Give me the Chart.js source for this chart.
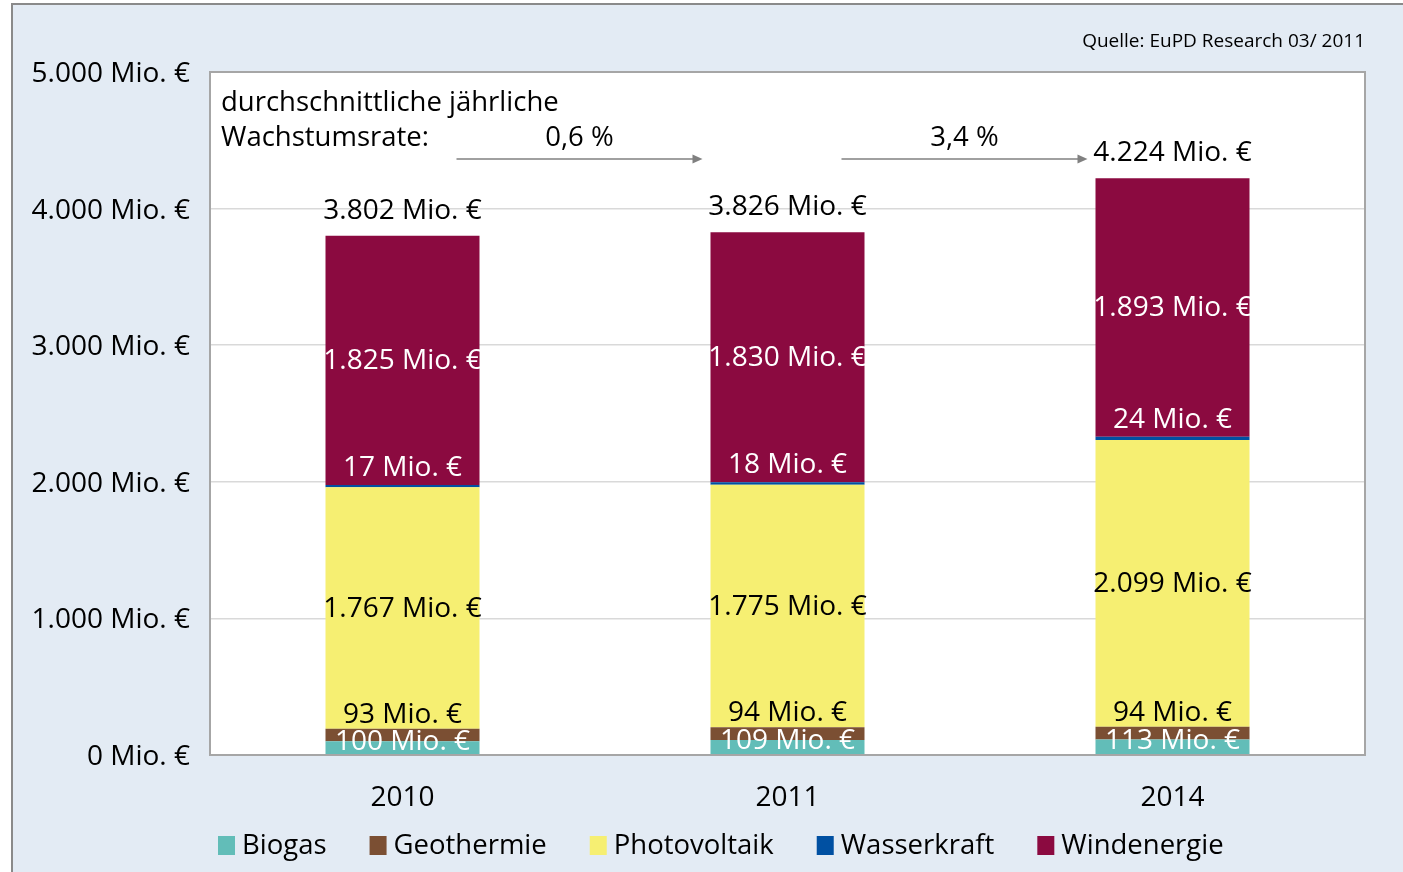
<!DOCTYPE html>
<html>
<head>
<meta charset="utf-8">
<script src="https://cdn.jsdelivr.net/npm/chart.js@4.4.0/dist/chart.umd.min.js"></script>
<style>
html, body { margin: 0; padding: 0; background: #fff; }
</style>
</head>
<body>
<canvas id="chart" width="1403" height="872"></canvas>
<script>
// data (Mio. €)
var years = ['2010', '2011', '2014'];
var biogas = [100, 109, 113];
var geothermie = [93, 94, 94];
var photovoltaik = [1767, 1775, 2099];
var wasserkraft = [17, 18, 24];
var windenergie = [1825, 1830, 1893];
var totals = [3802, 3826, 4224];
var growthRates = ['0,6 %', '3,4 %'];
var yMax = 5000;
var yStep = 1000;

var FONT = '"Open Sans", "Noto Sans", sans-serif';

function fmt(v){
    return v.toString().replace(/\B(?=(\d{3})+(?!\d))/g, '.') + ' Mio. €';
}

// label style per dataset: color, where to put it
var labelStyle = [
    {color: '#fff', pos: 'top', off: 1},
    {color: '#000', pos: 'top', off: -14},
    {color: '#000', pos: 'mid', off: 1},
    {color: '#fff', pos: 'top', off: -17},
    {color: '#fff', pos: 'mid', off: 1}
];

var decoPlugin = {
    id: 'deco',
    beforeDraw: function(chart){
        var ctx = chart.ctx, a = chart.chartArea;
        ctx.save();
        ctx.fillStyle = '#ffffff';
        ctx.fillRect(0, 0, chart.width, chart.height);
        ctx.fillStyle = '#e3ebf4';
        ctx.fillRect(12, 4, chart.width, chart.height);
        ctx.strokeStyle = '#8a8a8a';
        ctx.lineWidth = 2;
        ctx.strokeRect(12, 4, chart.width + 10, chart.height + 10);
        ctx.fillStyle = '#ffffff';
        ctx.fillRect(a.left, a.top, a.right - a.left, a.bottom - a.top);
        ctx.restore();
    },
    afterDraw: function(chart){
        var ctx = chart.ctx, a = chart.chartArea;
        var xs = chart.scales.x, ys = chart.scales.y;
        ctx.save();
        // plot border
        ctx.strokeStyle = '#a6a6a6';
        ctx.lineWidth = 2;
        ctx.strokeRect(a.left, a.top, a.right - a.left, a.bottom - a.top);

        // segment labels
        ctx.font = '28px ' + FONT;
        ctx.textAlign = 'center';
        ctx.textBaseline = 'middle';
        chart.data.datasets.forEach(function(ds, di){
            var meta = chart.getDatasetMeta(di);
            var st = labelStyle[di];
            meta.data.forEach(function(el, i){
                var y = st.pos == 'mid' ? (el.y + el.base) / 2 + st.off : el.y + st.off;
                ctx.fillStyle = st.color;
                ctx.fillText(fmt(ds.data[i]), el.x, y);
            });
        });
        // totals
        var last = chart.getDatasetMeta(chart.data.datasets.length - 1);
        ctx.fillStyle = '#000';
        last.data.forEach(function(el, i){
            ctx.fillText(fmt(totals[i]), el.x, el.y - 25);
        });

        // growth annotation
        ctx.font = '27.5px ' + FONT;
        ctx.textAlign = 'left';
        ctx.fillText('durchschnittliche jährliche', a.left + 11, a.top + 31);
        ctx.fillText('Wachstumsrate:', a.left + 11, a.top + 66);
        var ay = a.top + 87;
        ctx.strokeStyle = '#808080';
        ctx.fillStyle = '#808080';
        ctx.lineWidth = 1.5;
        for (var g = 0; g < growthRates.length; g++){
            var x1 = xs.getPixelForValue(g) + 54;
            var x2 = xs.getPixelForValue(g + 1) - 85;
            ctx.beginPath();
            ctx.moveTo(x1, ay);
            ctx.lineTo(x2 - 8, ay);
            ctx.stroke();
            ctx.beginPath();
            ctx.moveTo(x2, ay);
            ctx.lineTo(x2 - 10, ay - 4.5);
            ctx.lineTo(x2 - 10, ay + 4.5);
            ctx.closePath();
            ctx.fill();
            ctx.fillStyle = '#000';
            ctx.textAlign = 'center';
            ctx.fillText(growthRates[g], (x1 + x2) / 2, a.top + 66);
            ctx.fillStyle = '#808080';
        }

        // source
        ctx.fillStyle = '#000';
        ctx.font = '19px ' + FONT;
        ctx.textAlign = 'right';
        ctx.fillText('Quelle: EuPD Research 03/ 2011', a.right, 42);

        // legend
        ctx.font = '27.5px ' + FONT;
        ctx.textAlign = 'left';
        var lx = a.left + 8, ly = 846;
        chart.data.datasets.forEach(function(ds){
            ctx.fillStyle = ds.backgroundColor;
            ctx.fillRect(lx, ly - 10, 17, 19);
            ctx.fillStyle = '#000';
            ctx.fillText(ds.label, lx + 24, ly);
            lx += 24 + ctx.measureText(ds.label).width + 43;
        });
        ctx.restore();
    }
};

var ctx = document.getElementById('chart').getContext('2d');
var myChart = new Chart(ctx, {
    type: 'bar',
    data: {
        labels: years,
        datasets: [
            {label: 'Biogas', data: biogas, backgroundColor: '#62bdb8'},
            {label: 'Geothermie', data: geothermie, backgroundColor: '#7b4f33'},
            {label: 'Photovoltaik', data: photovoltaik, backgroundColor: '#f6ef72'},
            {label: 'Wasserkraft', data: wasserkraft, backgroundColor: '#0050a2'},
            {label: 'Windenergie', data: windenergie, backgroundColor: '#8b0a40'}
        ]
    },
    options: {
        responsive: false,
        animation: false,
        layout: {padding: {left: 12, right: 38, top: 72, bottom: 0}},
        datasets: {bar: {categoryPercentage: 1, barPercentage: 0.4, borderWidth: 0}},
        plugins: {legend: {display: false}, tooltip: {enabled: false}},
        scales: {
            x: {
                stacked: true,
                grid: {display: false},
                border: {display: false},
                ticks: {color: '#000', font: {size: 28, family: FONT}, padding: 18},
                afterFit: function(s){ s.height = 117; }
            },
            y: {
                stacked: true,
                min: 0,
                max: yMax,
                grid: {color: '#d9d9d9', lineWidth: 1.5, drawTicks: false},
                border: {display: false},
                ticks: {
                    stepSize: yStep,
                    color: '#000',
                    font: {size: 28, family: FONT},
                    padding: 20,
                    labelOffset: 2,
                    callback: function(v){ return fmt(v); }
                },
                afterFit: function(s){ s.width = 198; }
            }
        }
    },
    plugins: [decoPlugin]
});
</script>
</body>
</html>
